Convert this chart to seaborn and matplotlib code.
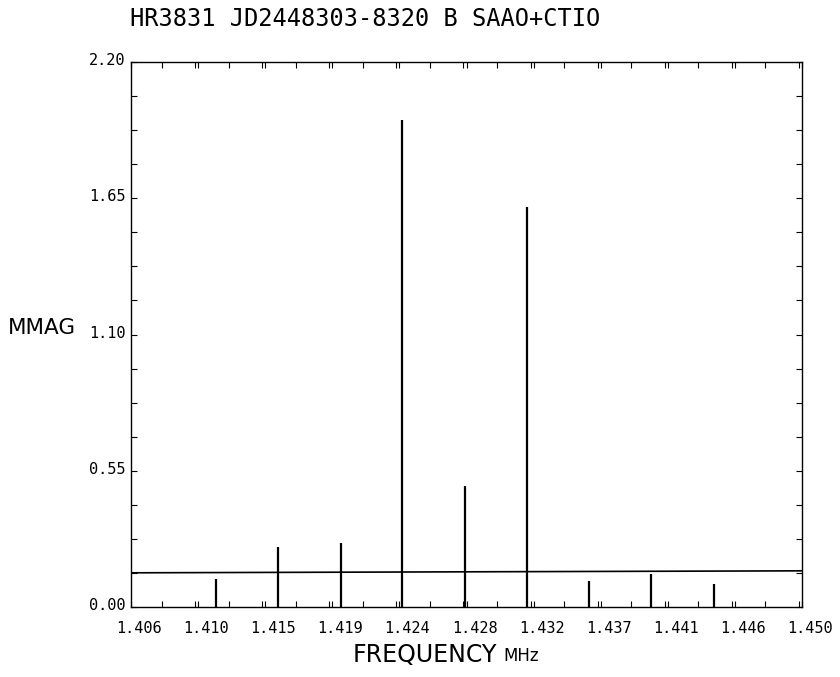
import numpy as np
import pandas as pd
import matplotlib
matplotlib.use("Agg")
import matplotlib.pyplot as plt
import matplotlib.transforms as mtransforms
from matplotlib.ticker import FixedLocator, MultipleLocator
import seaborn as sns

# ---- data ----
freq = [1.41160, 1.41566, 1.41975, 1.42380, 1.42788, 1.43197, 1.43604, 1.44012, 1.44424]
amp = [0.112, 0.241, 0.257, 1.966, 0.490, 1.616, 0.105, 0.132, 0.093]
noise_x = [1.406, 1.450]
noise_y = [0.138, 0.146]
xtick_vals = [1.406, 1.4104, 1.4148, 1.4192, 1.4236, 1.428, 1.4324, 1.4368, 1.4412, 1.4456, 1.450]
xtick_labels = ["1.406", "1.410", "1.415", "1.419", "1.424", "1.428", "1.432",
                "1.437", "1.441", "1.446", "1.450"]
ytick_vals = [0.00, 0.55, 1.10, 1.65, 2.20]
ytick_labels = ["0.00", "0.55", "1.10", "1.65", "2.20"]
title = "HR3831 JD2448303-8320 B SAAO+CTIO"

sns.set_style("white")
plt.rcParams['font.family'] = ['DejaVu Sans']
plt.rcParams['text.color'] = 'black'
plt.rcParams['xtick.color'] = 'black'
plt.rcParams['ytick.color'] = 'black'

fig = plt.figure(figsize=(8.4, 6.77), dpi=100)
ax = fig.add_axes([131 / 840, 1 - 607 / 677, 671 / 840, 545 / 677])

df = pd.DataFrame({"freq": freq, "amp": amp})
ax.vlines(df["freq"], 0, df["amp"], color="black", lw=1.6)
sns.lineplot(x=noise_x, y=noise_y, ax=ax, color="black", lw=1.2)

ax.set_xlim(1.406, 1.450)
ax.set_ylim(0, 2.20)

ax.xaxis.set_major_locator(FixedLocator(xtick_vals))
ax.set_xticklabels(xtick_labels, family="DejaVu Sans Mono")
ax.xaxis.set_minor_locator(MultipleLocator(0.0022))
ax.yaxis.set_major_locator(FixedLocator(ytick_vals))
ax.set_yticklabels(ytick_labels, family="DejaVu Sans Mono")
ax.yaxis.set_minor_locator(MultipleLocator(0.1375))

ax.tick_params(axis="both", which="both", direction="in", top=True, right=True,
               bottom=True, left=True, length=4, width=0.8, color="black")
ax.tick_params(axis="x", which="major", labelsize=11, pad=10, labelcolor="black")
ax.tick_params(axis="y", which="major", labelsize=11, pad=4, labelcolor="black")

offset = mtransforms.ScaledTranslation(8 / 100, 0, fig.dpi_scale_trans)
for lab in ax.get_xticklabels():
    lab.set_transform(lab.get_transform() + offset)
yoff = mtransforms.ScaledTranslation(0, 3 / 100, fig.dpi_scale_trans)
for lab in ax.get_yticklabels():
    lab.set_transform(lab.get_transform() + yoff)

for sp in ax.spines.values():
    sp.set_visible(True)
    sp.set_color("black")
    sp.set_linewidth(1.0)

ax.set_xlabel("")
ax.set_ylabel("")

fig.text(365 / 840, 1 - 19 / 677, title, ha="center", va="center", fontsize=17,
         family="DejaVu Sans Mono", color="black")
fig.text(8 / 840, 1 - 328 / 677, "MMAG", ha="left", va="center", fontsize=15.5, color="black")
fig.text(497 / 840, 1 - 655 / 677, "FREQUENCY", ha="right", va="center", fontsize=17, color="black")
fig.text(503 / 840, 1 - 656 / 677, "MHz", ha="left", va="center", fontsize=12, color="black")

fig.savefig("out.png", dpi=100)
